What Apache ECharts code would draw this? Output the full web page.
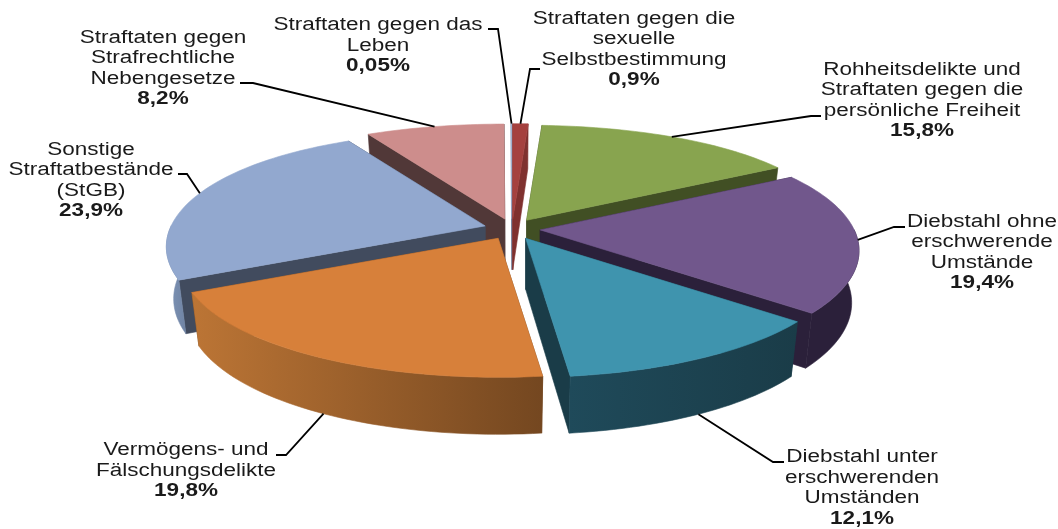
<!DOCTYPE html>
<html><head><meta charset="utf-8">
<style>html,body{margin:0;padding:0;background:#fff}#c{width:1058px;height:529px}</style>
<script src="https://cdn.jsdelivr.net/npm/echarts@6/dist/echarts.min.js"></script>
</head><body><div id="c"></div>
<script>
// ---- data (clockwise from 12 o'clock) ----
const categories = [
  "Straftaten gegen die\nsexuelle\nSelbstbestimmung",
  "Rohheitsdelikte und\nStraftaten gegen die\npersönliche Freiheit",
  "Diebstahl ohne\nerschwerende\nUmstände",
  "Diebstahl unter\nerschwerenden\nUmständen",
  "Vermögens- und\nFälschungsdelikte",
  "Sonstige\nStraftatbestände\n(StGB)",
  "Straftaten gegen\nStrafrechtliche\nNebengesetze",
  "Straftaten gegen das\nLeben"
];
const values = [0.9, 15.8, 19.4, 12.1, 19.8, 23.9, 8.2, 0.05];
const valueLabels = ["0,9%","15,8%","19,4%","12,1%","19,8%","23,9%","8,2%","0,05%"];

// ---- styles ----
const topColors  = ["#A5413F","#88A44F","#71578C","#3F94AE","#D7803A","#92A8CF","#CD8D8C","#A3B4D4"];
const sideColors = ["#7F312F","#414F24","#2B203A","#1A3C48","#6F441F","#414B5E","#513838","#6E7C99"];
const wallLeft   = ["#8B3532","#55682F","#2B203A","#1F4A5A","#BC7535","#7F95B8","#6A4A4A","#6E7C99"];
const wallRight  = ["#7F312F","#414F24","#2B203A","#1A3C48","#744720","#6F83A3","#513838","#6E7C99"];
const drawRank   = [2,3,5,7,6,4,0,1];

// ---- layout: label centres, leader elbows ----
const labelCenters = [[634,49.5],[922,100.5],[982,252.5],[862,488],[186,471],[91,180.5],[163,68.5],[378,46]];
const leaderElbows = [[[530,69],[540,69]],[[811,116],[821,116]],[[894,227],[905,227]],[[773,462],[784,462]],
                      [[286,455],[276,455]],[[187,174],[178,174]],[[253,83],[240,83]],[[498,29],[488,29]]];
const onWall = [false,false,false,true,true,false,false,false];
const textStretch = 1.25;

// ---- projection of the tilted pie ----
const cx = 512, cy = 229, explode = 0.09;
const spanX = Y => 314 + 54 * Y + 12 * Y * Y, spanY = Y => 116 + 22 * Y + Y * Y;
const depthAt = Y => 51 + 6 * Y, foot = 0.977;
const total = values.reduce((a, b) => a + b, 0);
const starts = []; values.reduce((a, v, i) => (starts[i] = a, a + v), 0);
const toAngle = v => v / total * Math.PI * 2;

function apexOf(i) {
  const m = toAngle(starts[i] + values[i] / 2);
  const X = explode * Math.sin(m), Y = -explode * Math.cos(m);
  return [cx + X * spanX(Y), cy + Y * spanY(Y)];
}
function rim(i, t, low) {
  const a = apexOf(i), X = Math.sin(t), Y = -Math.cos(t);
  const dx = X * spanX(Y), dy = Y * spanY(Y);
  return low ? [a[0] + dx * foot, a[1] + dy + depthAt(Y)] : [a[0] + dx, a[1] + dy];
}

function renderSlice(params, api) {
  const i = params.dataIndex;
  const v = api.value(0), a0 = toAngle(starts[i]), a1 = toAngle(starts[i] + v);
  const n = Math.max(2, Math.ceil((a1 - a0) * 40));
  const ts = []; for (let k = 0; k <= n; k++) ts.push(a0 + (a1 - a0) * k / n);
  const A = apexOf(i), A2 = [A[0], A[1] + depthAt(0)];
  const up = ts.map(t => rim(i, t, false)), dn = ts.map(t => rim(i, t, true));
  const z = drawRank[i] * 10;
  const face = (pts, fill, zz) => ({ type: 'polygon', z2: zz, silent: true,
    shape: { points: pts }, style: { fill: fill, stroke: fill, lineWidth: 0.6 } });
  const grad = new echarts.graphic.LinearGradient(0, 0, 1, 0,
    [{ offset: 0, color: wallLeft[i] }, { offset: 1, color: wallRight[i] }]);
  const kids = [
    face([A, up[0], dn[0], A2], sideColors[i], z),
    face([A, up[n], dn[n], A2], sideColors[i], z + 1)
  ];
  // outer wall only where the rim faces the viewer
  const front = ts.filter(t => -Math.cos(t) >= -0.01);
  if (front.length > 1) {
    const fu = front.map(t => rim(i, t, false)), fd = front.map(t => rim(i, t, true));
    kids.push(face(fu.concat(fd.reverse()), grad, z + 2));
  }
  kids.push(face([A].concat(up), topColors[i], z + 3));
  // leader line, anchored at the slice's mid angle
  const mid = (a0 + a1) / 2, e = leaderElbows[i];
  kids.push({ type: 'polyline', z2: 200, silent: true,
    shape: { points: [rim(i, mid, onWall[i])].concat(e) },
    style: { stroke: '#000', lineWidth: 1.8, fill: null } });
  // label
  const c = labelCenters[i];
  const txt = categories[i].split('\n').map(s => '{n|' + s + '}').join('\n') + '\n{b|' + valueLabels[i] + '}';
  kids.push({ type: 'text', z2: 210, silent: true, x: c[0], y: c[1], scaleX: textStretch,
    style: { text: txt, align: 'center', verticalAlign: 'middle',
      rich: {
        n: { fontFamily: 'Liberation Sans', fontSize: 18, lineHeight: 20.5, fill: '#1a1a1a', align: 'center' },
        b: { fontFamily: 'Liberation Sans', fontSize: 18, fontWeight: 'bold', lineHeight: 20.5, fill: '#1a1a1a', align: 'center' }
      } } });
  return { type: 'group', children: kids };
}

const chart = echarts.init(document.getElementById('c'), null, { renderer: 'canvas' });
chart.setOption({
  animation: false,
  backgroundColor: '#fff',
  series: [{
    type: 'custom',
    coordinateSystem: 'none',
    renderItem: renderSlice,
    data: values.map((v, i) => ({ name: categories[i], value: [v] }))
  }]
});
</script></body></html>
